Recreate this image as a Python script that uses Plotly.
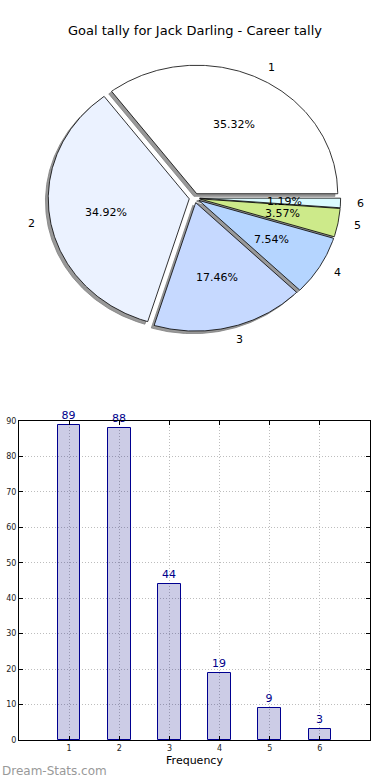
import numpy as np
import plotly.graph_objects as go

# ---- data ----
categories = ["1", "2", "3", "4", "5", "6"]
tally = [89, 88, 44, 19, 9, 3]
pie_colors = ["#ffffff", "#ebf2ff", "#c6d9ff", "#b5d5ff", "#cdea8a", "#dafbff"]
y_ticks = [0, 10, 20, 30, 40, 50, 60, 70, 80, 90]
title_text = "Goal tally for Jack Darling - Career tally"
x_title = "Frequency"
watermark = "Dream-Stats.com"

# ---- style ----
W, H = 390, 780
FONT = "DejaVu Sans"
explode = 0.037
shadow_off = (-0.02, -0.02)
shadow_color = "#999999"

vals = np.array(tally, dtype=float)
frac = vals / vals.sum()
edges = np.concatenate([[0.0], np.cumsum(frac)]) * 360.0

fig = go.Figure()


def wedge(i, dx=0.0, dy=0.0):
    t1, t2 = edges[i], edges[i + 1]
    mid = np.deg2rad((t1 + t2) / 2)
    ox, oy = explode * np.cos(mid) + dx, explode * np.sin(mid) + dy
    n = max(int((t2 - t1) * 2), 6)
    th = np.deg2rad(np.linspace(t1, t2, n))
    xs = np.concatenate([[ox], ox + np.cos(th), [ox]])
    ys = np.concatenate([[oy], oy + np.sin(th), [oy]])
    return xs, ys, mid, ox - dx, oy - dy


# shadows first (below all wedges)
for i in range(len(tally)):
    xs, ys, *_ = wedge(i, *shadow_off)
    fig.add_trace(go.Scatter(x=xs, y=ys, mode="lines", fill="toself",
                             fillcolor=shadow_color,
                             line=dict(color="#808080", width=0.8),
                             xaxis="x2", yaxis="y2", hoverinfo="skip",
                             showlegend=False))

annotations = []
for i in range(len(tally)):
    xs, ys, mid, ox, oy = wedge(i)
    fig.add_trace(go.Scatter(x=xs, y=ys, mode="lines", fill="toself",
                             fillcolor=pie_colors[i],
                             line=dict(color="black", width=0.8),
                             xaxis="x2", yaxis="y2", name=categories[i],
                             hoverinfo="name", showlegend=False))
    c, s = np.cos(mid), np.sin(mid)
    annotations.append(dict(x=ox + 0.6 * c, y=oy + 0.6 * s, xref="x2", yref="y2",
                            text=f"{frac[i] * 100:.2f}%", showarrow=False,
                            xanchor="center", yanchor="middle",
                            font=dict(family=FONT, size=11, color="black")))
    annotations.append(dict(x=ox + 1.1 * c, y=oy + 1.1 * s, xref="x2", yref="y2",
                            text=categories[i], showarrow=False,
                            xanchor="left" if c > 0 else "right", yanchor="middle",
                            font=dict(family=FONT, size=11, color="black")))

# bar chart
xpos = [int(c) for c in categories]
fig.add_trace(go.Bar(x=xpos, y=tally, width=0.45,
                     marker=dict(color="rgba(0,0,128,0.2)",
                                 line=dict(color="#000090", width=1)),
                     text=[str(v) for v in tally], textposition="outside",
                     textfont=dict(family=FONT, size=11, color="#00008b"),
                     cliponaxis=False, showlegend=False,
                     xaxis="x", yaxis="y"))

annotations.append(dict(x=0, y=0.0, xref="paper", yref="paper", text=watermark,
                        showarrow=False, xanchor="left", yanchor="bottom",
                        yshift=0,
                        font=dict(family=FONT, size=12, color="#999999")))

# pie axes (pixel-matched ellipse)
cx, cy, rx, ry = 194.4, 198.0, 141.0, 128.5
pie_h = H / 2

grid = dict(showgrid=True, gridcolor="#bdbdbd", griddash="1px,2px", gridwidth=1,
            showline=True, linecolor="black", linewidth=1, mirror="ticks",
            ticks="inside", ticklen=4, tickcolor="black",
            tickfont=dict(family=FONT, size=8, color="#222222"),
            zeroline=False, automargin=False)

fig.update_layout(
    width=W, height=H,
    margin=dict(l=0, r=0, t=0, b=0, autoexpand=False),
    paper_bgcolor="white", plot_bgcolor="white",
    title=dict(text=title_text, x=0.5, xanchor="center",
               y=1 - 30 / H, yanchor="middle",
               font=dict(family=FONT, size=13, color="black")),
    xaxis2=dict(domain=[0, 1], anchor="y2", range=[-cx / rx, (W - cx) / rx],
                visible=False, fixedrange=True, automargin=False),
    yaxis2=dict(domain=[0.5, 1], anchor="x2",
                range=[-(pie_h - cy) / ry, cy / ry],
                visible=False, fixedrange=True, automargin=False),
    xaxis=dict(domain=[19 / W, 370 / W], anchor="y", range=[0, 7],
               tickvals=xpos, ticktext=categories,
               title=dict(text=x_title, standoff=4,
                          font=dict(family=FONT, size=11, color="black")),
               **grid),
    yaxis=dict(domain=[40 / H, 359 / H], anchor="x", range=[0, 90],
               tickvals=y_ticks, **grid),
    annotations=annotations,
    bargap=0,
)

fig.write_html("out.html",
               config={"displayModeBar": False},
               post_script="document.body.style.margin='0';document.body.style.overflow='hidden';")
